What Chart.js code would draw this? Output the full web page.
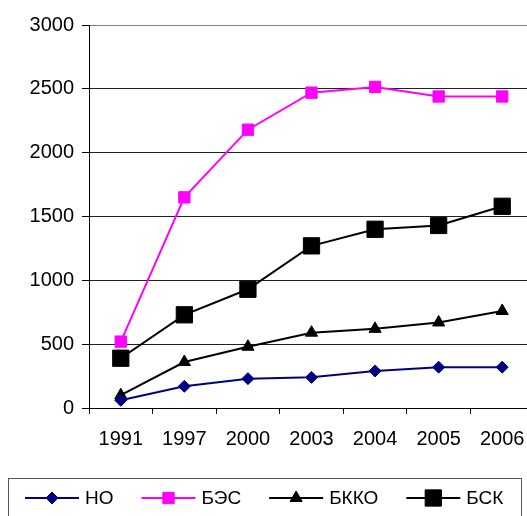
<!DOCTYPE html>
<html>
<head>
<meta charset="utf-8">
<script src="https://cdn.jsdelivr.net/npm/chart.js@4/dist/chart.umd.min.js"></script>
<style>
  html, body { margin: 0; padding: 0; background: #fff; overflow: hidden; }
  #wrap { width: 536px; height: 516px; position: relative; }
  canvas { display: block; }
</style>
</head>
<body>
<div id="wrap"><canvas id="c" width="536" height="516"></canvas></div>
<script>
// Years on the horizontal axis
const years = ['1991', '1997', '2000', '2003', '2004', '2005', '2006'];

// Series values
const seriesNO   = [60, 170, 230, 240, 290, 320, 320];
const seriesBES  = [520, 1650, 2180, 2470, 2515, 2440, 2440];
const seriesBKKO = [100, 360, 480, 590, 620, 670, 760];
const seriesBSK  = [390, 730, 930, 1270, 1400, 1430, 1580];

// Series names
const seriesNames = ['НО', 'БЭС', 'БККО', 'БСК'];

// Vertical axis range
const yMin = 0, yMax = 3000, yStep = 500;

const FONT = "'Liberation Sans', Arial, sans-serif";

function ds(label, data, color, style, radius, width) {
  return {
    label, data,
    borderColor: color,
    backgroundColor: color,
    borderWidth: width,
    pointStyle: style,
    pointRadius: radius,
    pointHoverRadius: radius,
    pointBackgroundColor: color,
    pointBorderColor: color,
    pointBorderWidth: 1,
    tension: 0,
    fill: false,
    clip: false
  };
}

// Boxed legend under the plot: line sample with marker, then the name
const boxedLegend = {
  id: 'boxedLegend',
  afterDraw(chart) {
    const ctx = chart.ctx;
    ctx.save();
    ctx.strokeStyle = '#555';
    ctx.lineWidth = 1;
    ctx.strokeRect(8.5, 478.5, 513, 60);
    ctx.font = '19px ' + FONT;
    ctx.textBaseline = 'middle';
    const cy = 498;
    let x = 25;
    chart.data.datasets.forEach((d) => {
      const lineLen = 54;
      ctx.strokeStyle = d.borderColor;
      ctx.lineWidth = d.borderWidth;
      ctx.beginPath();
      ctx.moveTo(x, cy);
      ctx.lineTo(x + lineLen, cy);
      ctx.stroke();
      ctx.fillStyle = d.pointBackgroundColor;
      ctx.strokeStyle = d.pointBorderColor;
      ctx.lineWidth = 1;
      Chart.helpers.drawPoint(ctx, {
        pointStyle: d.pointStyle,
        radius: d.pointRadius,
        borderWidth: 1,
        rotation: 0
      }, x + lineLen / 2, cy);
      ctx.fillStyle = '#000';
      ctx.fillText(d.label, x + lineLen + 6, cy + 1);
      x += lineLen + 6 + ctx.measureText(d.label).width + 28;
    });
    ctx.restore();
  }
};

new Chart(document.getElementById('c'), {
  type: 'line',
  data: {
    labels: years,
    datasets: [
      ds(seriesNames[0], seriesNO, '#000080', 'rectRot', 6, 2),
      ds(seriesNames[1], seriesBES, '#FF00FF', 'rect', 8, 2),
      ds(seriesNames[2], seriesBKKO, '#000000', 'triangle', 7, 2),
      ds(seriesNames[3], seriesBSK, '#000000', 'rect', 11.5, 2)
    ]
  },
  options: {
    responsive: false,
    animation: false,
    devicePixelRatio: 1,
    layout: {
      autoPadding: false,
      padding: { top: 25, right: 2, left: 0, bottom: 0 }
    },
    plugins: {
      legend: { display: false },
      tooltip: { enabled: false }
    },
    scales: {
      x: {
        type: 'category',
        offset: true,
        afterFit: (s) => {
          s.height = 108;
          s.paddingLeft = 0;
          s.paddingRight = 0;
        },
        grid: {
          offset: true,
          drawOnChartArea: false,
          drawTicks: true,
          tickLength: 6,
          color: '#000'
        },
        border: { color: '#000', width: 1 },
        ticks: {
          color: '#000',
          font: { family: FONT, size: 20 },
          padding: 13,
          maxRotation: 0,
          autoSkip: false
        }
      },
      y: {
        min: yMin,
        max: yMax,
        afterFit: (s) => { s.width = 89; },
        grid: {
          color: (c) => (c.tick && c.tick.value === yMax) ? '#808080' : '#222',
          lineWidth: 1,
          tickLength: 7,
          tickColor: '#000'
        },
        border: { color: '#000', width: 1 },
        ticks: {
          stepSize: yStep,
          color: '#000',
          font: { family: FONT, size: 20 },
          padding: 8,
          callback: (v) => String(v)
        }
      }
    }
  },
  plugins: [boxedLegend]
});
</script>
</body>
</html>
